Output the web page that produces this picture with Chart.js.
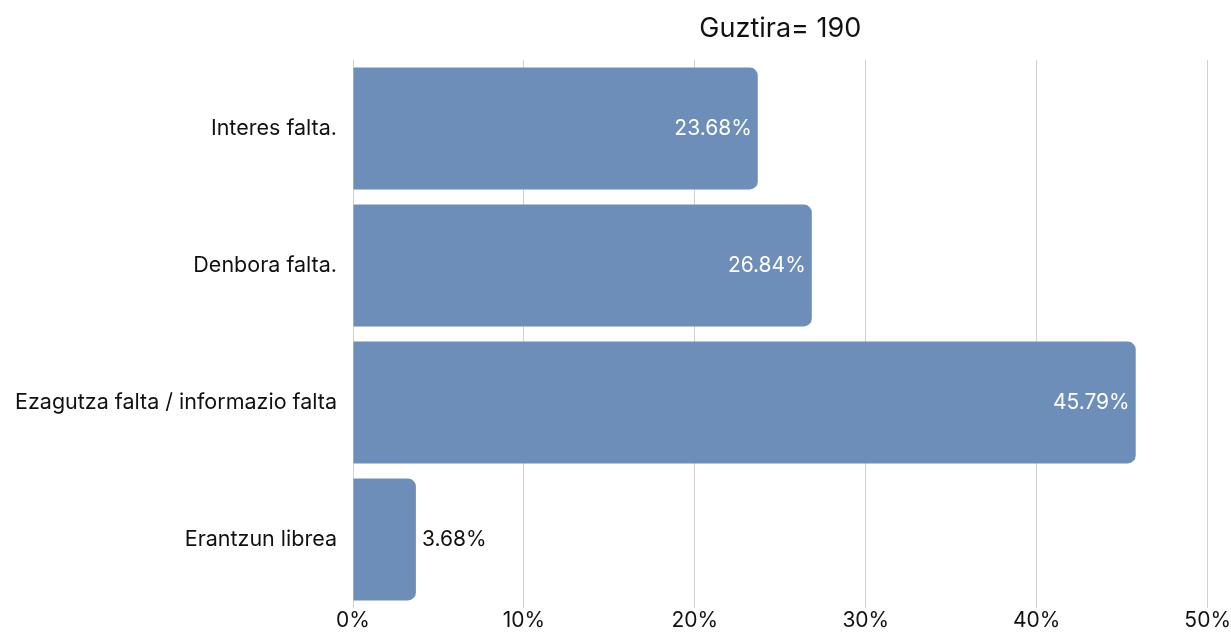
<!DOCTYPE html>
<html>
<head>
<meta charset="utf-8">
<script src="https://cdn.jsdelivr.net/npm/chart.js@4"></script>
<style>
  html, body { margin:0; padding:0; background:#fff; }
  #wrap { width:1231px; height:632px; }
</style>
</head>
<body>
<div id="wrap"><canvas id="chart" width="1231" height="632"></canvas></div>
<script>
const titleText = 'Guztira= 190';
const categories = ['Interes falta.', 'Denbora falta.', 'Ezagutza falta / informazio falta', 'Erantzun librea'];
const values = [23.68, 26.84, 45.79, 3.68];
const xTicksMax = 50;
const xTickStep = 10;

const FONT = 'Inter, "DejaVu Sans", sans-serif';
const barColor = '#6d8eb8';

// title centred on the plot area and value labels at the bar ends
const labelPlugin = {
    id:'labels',
    afterDraw(chart){
        const ctx = chart.ctx;
        const area = chart.chartArea;
        ctx.save();
        ctx.font = '400 27px ' + FONT;
        ctx.fillStyle = '#111';
        ctx.textAlign = 'center';
        ctx.textBaseline = 'middle';
        ctx.fillText(titleText, (area.left + area.right) / 2, 29);

        ctx.font = '400 21px ' + FONT;
        const meta = chart.getDatasetMeta(0);
        meta.data.forEach((bar, i)=>{
            const txt = values[i].toFixed(2) + '%';
            const w = ctx.measureText(txt).width;
            const barW = bar.x - bar.base;
            if(barW > w + 14){
                ctx.fillStyle = '#fff';
                ctx.textAlign = 'right';
                ctx.fillText(txt, bar.x - 6, bar.y);
            } else {
                ctx.fillStyle = '#111';
                ctx.textAlign = 'left';
                ctx.fillText(txt, bar.x + 6, bar.y);
            }
        });
        ctx.restore();
    }
};

const ctx = document.getElementById('chart').getContext('2d');
new Chart(ctx,{
    type:'bar',
    data:{
        labels:categories,
        datasets:[{
            data:values,
            backgroundColor:barColor,
            borderWidth:0,
            borderRadius:{topRight:8, bottomRight:8, topLeft:0, bottomLeft:0},
            borderSkipped:false,
            categoryPercentage:1,
            barPercentage:0.89
        }]
    },
    options:{
        indexAxis:'y',
        responsive:false,
        animation:false,
        layout:{ padding:{ top:60, right:4, bottom:0, left:0 } },
        plugins:{
            legend:{ display:false },
            title:{ display:false },
            tooltip:{ enabled:false }
        },
        scales:{
            x:{
                min:0,
                max:xTicksMax,
                ticks:{
                    stepSize:xTickStep,
                    callback:v=>v+'%',
                    color:'#111',
                    font:{ family:FONT, size:21 },
                    padding:0
                },
                grid:{ color:'#d0d0d0', drawTicks:false },
                border:{ display:false },
                afterFit(scale){ scale.height = 24; }
            },
            y:{
                ticks:{
                    color:'#111',
                    font:{ family:FONT, size:21.5 },
                    padding:8
                },
                grid:{ display:false },
                border:{ display:false },
                afterFit(scale){ scale.width = 353; }
            }
        }
    },
    plugins:[labelPlugin]
});
</script>
</body>
</html>
